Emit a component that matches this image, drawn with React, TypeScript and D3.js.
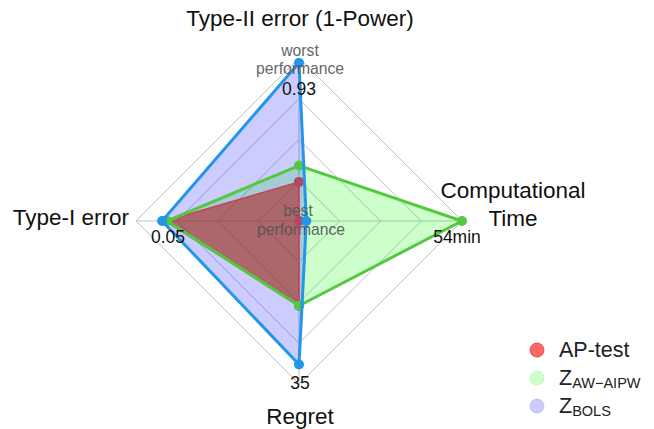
import React from 'react';
import * as d3 from 'd3';

// axes in clockwise order starting at 12 o'clock
const axisNames = ['Type-II error (1-Power)', 'Computational Time', 'Regret', 'Type-I error'];
const maxLabels = ['0.93', '54min', '35', '0.05'];

// normalised scores (0 = best, 1 = worst)
const apTest = [0.24, 0.0, 0.52, 0.82];
const zAwAipw = [0.34, 1.0, 0.52, 0.81];
const zBols = [0.97, 0.045, 0.88, 0.84];

const gridLevels = [0.25, 0.5, 0.75, 1];

const W = 654;
const H = 429;
const cx = 299;
const cy = 221;
const R = 163;
const FONT = '"Liberation Sans", Arial, Helvetica, sans-serif';

interface Trace {
  name: string;
  sub?: string;
  values: number[];
  fill: string;
  line: string;
  lineWidth: number;
  marker: string;
  legendFill: string;
  legendStroke: string;
}

const traces: Trace[] = [
  {
    name: 'AP-test', values: apTest,
    fill: 'rgba(180,20,20,0.55)', line: 'rgb(205,60,95)', lineWidth: 1.5, marker: 'rgb(180,70,95)',
    legendFill: 'rgba(255,0,0,0.6)', legendStroke: 'rgba(230,40,40,0.7)',
  },
  {
    name: 'Z', sub: 'AW\u2212AIPW', values: zAwAipw,
    fill: 'rgba(0,255,0,0.2)', line: 'rgb(85,200,65)', lineWidth: 3, marker: 'rgb(85,200,65)',
    legendFill: 'rgba(0,255,0,0.2)', legendStroke: 'rgba(0,220,0,0.15)',
  },
  {
    name: 'Z', sub: 'BOLS', values: zBols,
    fill: 'rgba(0,0,255,0.2)', line: 'rgb(33,150,235)', lineWidth: 3, marker: 'rgb(33,150,235)',
    legendFill: 'rgba(0,0,255,0.2)', legendStroke: 'rgba(0,0,220,0.15)',
  },
];

export default function App() {
  const r = d3.scaleLinear().domain([0, 1]).range([0, R]);
  const angle = d3.scaleLinear().domain([0, axisNames.length]).range([0, 2 * Math.PI]);

  const radial = d3.lineRadial<number>()
    .angle((_, i) => angle(i))
    .radius(d => r(d))
    .curve(d3.curveLinearClosed);

  const pt = (v: number, i: number) => {
    const a = angle(i) - Math.PI / 2;
    return [r(v) * Math.cos(a), r(v) * Math.sin(a)];
  };

  // fills drawn first, in this order, then lines on top
  const fillOrder = [1, 2, 0];

  return (
    <svg width={W} height={H} style={{ position: 'absolute', left: 0, top: 0, background: '#fff' }} fontFamily={FONT}>
      <g transform={`translate(${cx},${cy})`}>
        {gridLevels.map(l => (
          <path key={l} d={radial(axisNames.map(() => l)) as string} fill="none" stroke="#c0c0c0" strokeWidth={1} />
        ))}
        <line x1={-r(1)} x2={r(1)} y1={0} y2={0} stroke="#c0c0c0" />
        <line x1={0} x2={0} y1={-r(1)} y2={r(1)} stroke="#c0c0c0" />

        {fillOrder.map(k => (
          <path key={'f' + k} d={radial(traces[k].values) as string} fill={traces[k].fill} stroke="none" />
        ))}
        {traces.map((t, k) => (
          <g key={'l' + k}>
            <path d={radial(t.values) as string} fill="none" stroke={t.line} strokeWidth={t.lineWidth} strokeLinejoin="round" />
            {t.values.map((v, i) => {
              const [x, y] = pt(v, i);
              return <circle key={i} cx={x} cy={y} r={5} fill={t.marker} />;
            })}
          </g>
        ))}

        {/* axis end values */}
        <g fontSize={17.5} fill="#111" textAnchor="middle">
          <text x={0} y={-r(1) + 37}>{maxLabels[0]}</text>
          <text x={r(1) - 5} y={22}>{maxLabels[1]}</text>
          <text x={1} y={r(1) + 5}>{maxLabels[2]}</text>
          <text x={-r(1) + 32} y={22}>{maxLabels[3]}</text>
        </g>

        <g fontSize={15.7} fill="#555" textAnchor="middle" opacity={0.9}>
          <text x={1} y={-r(1) - 2}>worst</text>
          <text x={1} y={-r(1) + 16}>performance</text>
          <text x={-1} y={-5}>best</text>
          <text x={2} y={14}>performance</text>
        </g>

        {/* axis titles */}
        <g fontSize={22.5} fill="#111">
          <text x={1} y={-r(1) - 32} textAnchor="middle">{axisNames[0]}</text>
          <text x={r(1) + 51} y={-23} textAnchor="middle">Computational</text>
          <text x={r(1) + 51} y={5} textAnchor="middle">Time</text>
          <text x={1} y={r(1) + 40} textAnchor="middle">{axisNames[2]}</text>
          <text x={-r(1) - 7} y={4} textAnchor="end">{axisNames[3]}</text>
        </g>
      </g>

      <g transform="translate(537,350)">
        {traces.map((t, k) => (
          <g key={k} transform={`translate(0,${k * 28})`}>
            <circle r={7} fill={t.legendFill} stroke={t.legendStroke} strokeWidth={1} />
            <text x={22} y={7} fontSize={21.5} fill="#222">
              {t.name}
              {t.sub && <tspan fontSize={14.5} dy={3}>{t.sub}</tspan>}
            </text>
          </g>
        ))}
      </g>
    </svg>
  );
}
